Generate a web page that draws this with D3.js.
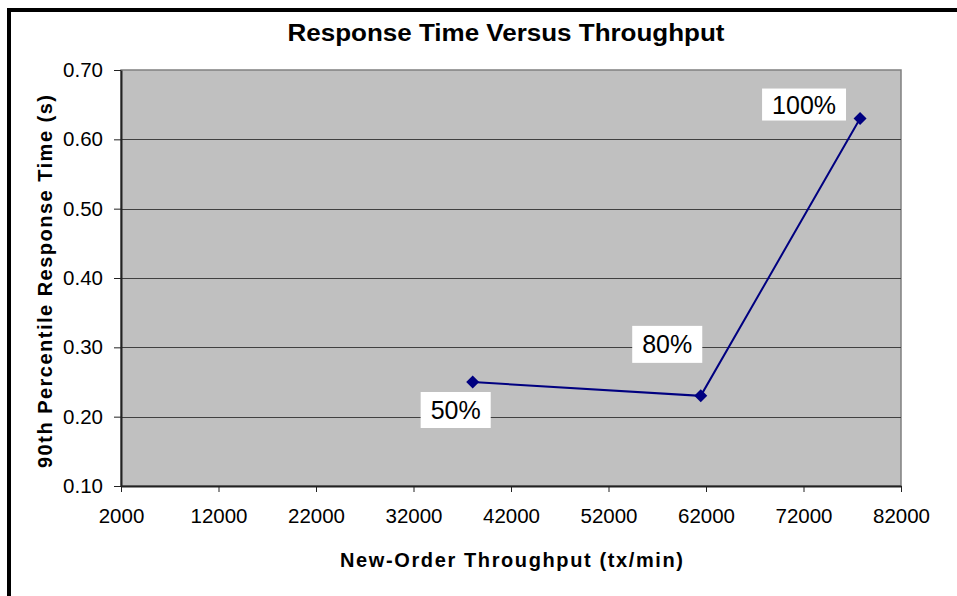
<!DOCTYPE html>
<html>
<head>
<meta charset="utf-8">
<script src="https://cdn.jsdelivr.net/npm/d3@7"></script>
<style>
  body { margin: 0; background: #fff; }
  text { font-family: Arial, "Liberation Sans", sans-serif; }
</style>
</head>
<body>
<div id="container"></div>
<script>
const w = 957;
const h = 596;
const p = {top: 70, right: 56, bottom: 110, left: 121};

// data
const throughput = [38070, 61460, 77800];
const responseTime = [0.25, 0.23, 0.63];
const loadLabels = ['50%', '80%', '100%'];
const xTicks = [2000, 12000, 22000, 32000, 42000, 52000, 62000, 72000, 82000];
const yTicks = [0.10, 0.20, 0.30, 0.40, 0.50, 0.60, 0.70];

// label box placement relative to each point: dx, dy, box height (layout only)
const labelBox = [[-17, 28, 36], [-33.5, -51.5, 37], [-56, -14, 32]];

const points = throughput.map((t, i) => ({x: t, y: responseTime[i], label: loadLabels[i]}));

const svg = d3.select('#container')
  .append('svg')
  .attr('width', w)
  .attr('height', h);

// outer frame, runs off the right and bottom edges
svg.append('rect')
  .attr('x', 9)
  .attr('y', 10)
  .attr('width', w + 20)
  .attr('height', h + 20)
  .attr('fill', '#fff')
  .attr('stroke', '#000')
  .attr('stroke-width', 4);

const x = d3.scaleLinear()
  .domain([2000, 82000])
  .range([p.left, w - p.right]);
const y = d3.scaleLinear()
  .domain([0.10, 0.70])
  .range([h - p.bottom, p.top]);

// plot background
svg.append('rect')
  .attr('x', x(2000))
  .attr('y', y(0.70))
  .attr('width', x(82000) - x(2000))
  .attr('height', y(0.10) - y(0.70))
  .attr('fill', '#c0c0c0')
  .attr('stroke', '#808080')
  .attr('stroke-width', 1.5);

// gridlines
svg.append('g')
  .selectAll('line')
  .data(yTicks.slice(1, -1))
  .join('line')
  .attr('x1', x(2000))
  .attr('x2', x(82000))
  .attr('y1', d => Math.round(y(d)) + 0.5)
  .attr('y2', d => Math.round(y(d)) + 0.5)
  .attr('stroke', '#404040')
  .attr('stroke-width', 1);

const xAxis = d3.axisBottom(x)
  .tickValues(xTicks)
  .tickFormat(d3.format('d'))
  .tickSize(6)
  .tickPadding(16)
  .tickSizeOuter(0);
const yAxis = d3.axisLeft(y)
  .tickValues(yTicks)
  .tickFormat(d3.format('.2f'))
  .tickSize(7)
  .tickPadding(11)
  .tickSizeOuter(0);

const styleAxis = g => {
  g.select('.domain').attr('stroke', '#222').attr('stroke-width', 2);
  g.selectAll('.tick line').attr('stroke', '#222');
  g.selectAll('text').attr('font-size', 20.5).attr('fill', '#000')
    .style('font-family', 'Arial, "Liberation Sans", sans-serif');
};

svg.append('g')
  .attr('transform', 'translate(0,' + (h - p.bottom) + ')')
  .call(xAxis)
  .call(styleAxis);

svg.append('g')
  .attr('transform', 'translate(' + p.left + ',0)')
  .call(yAxis)
  .call(styleAxis);

// series line
const line = d3.line()
  .x(d => x(d.x))
  .y(d => y(d.y));

svg.append('path')
  .datum(points)
  .attr('d', line)
  .attr('fill', 'none')
  .attr('stroke', '#000080')
  .attr('stroke-width', 2);

svg.append('g')
  .selectAll('path')
  .data(points)
  .join('path')
  .attr('transform', d => 'translate(' + x(d.x) + ',' + y(d.y) + ')')
  .attr('d', 'M0,-6.5L6.5,0L0,6.5L-6.5,0Z')
  .attr('fill', '#000080');

// data labels in white boxes
const labels = svg.append('g')
  .selectAll('g')
  .data(points)
  .join('g')
  .attr('transform', (d, i) => 'translate(' + (x(d.x) + labelBox[i][0]) + ',' + (y(d.y) + labelBox[i][1]) + ')');

labels.append('text')
  .attr('text-anchor', 'middle')
  .attr('dy', '0.36em')
  .attr('font-size', 25)
  .text(d => d.label);

labels.each(function(d, i) {
  const g = d3.select(this);
  const b = g.select('text').node().getBBox();
  const bh = labelBox[i][2];
  g.insert('rect', 'text')
    .attr('x', b.x - 10)
    .attr('y', -bh / 2)
    .attr('width', b.width + 20)
    .attr('height', bh)
    .attr('fill', '#fff');
});

// titles
svg.append('text')
  .attr('x', 506)
  .attr('y', 41)
  .attr('text-anchor', 'middle')
  .attr('font-size', 23)
  .attr('font-weight', 'bold')
  .attr('textLength', 437)
  .attr('lengthAdjust', 'spacingAndGlyphs')
  .text('Response Time Versus Throughput');

svg.append('text')
  .attr('x', 511.5)
  .attr('y', 567)
  .attr('text-anchor', 'middle')
  .attr('font-size', 20)
  .attr('font-weight', 'bold')
  .attr('textLength', 343)
  .attr('lengthAdjust', 'spacing')
  .text('New-Order Throughput (tx/min)');

svg.append('text')
  .attr('transform', 'translate(52,281.5) rotate(-90)')
  .attr('text-anchor', 'middle')
  .attr('font-size', 20)
  .attr('font-weight', 'bold')
  .attr('textLength', 373)
  .attr('lengthAdjust', 'spacing')
  .text('90th Percentile Response Time (s)');
</script>
</body>
</html>
